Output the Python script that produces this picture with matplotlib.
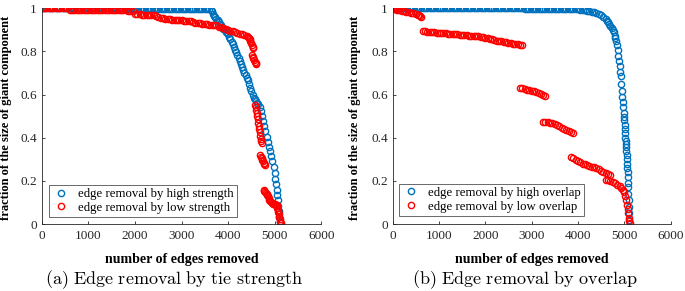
import matplotlib
matplotlib.use("Agg")
import matplotlib.pyplot as plt

plt.rcParams['mathtext.fontset'] = 'cm'
plt.rcParams['font.family'] = ['Liberation Serif', 'DejaVu Serif']

# ---------------- Panel (a): edge removal by tie strength ----------------
# high strength removal (blue)
hs_x = [0, 50, 100, 150, 200, 250, 300, 350, 400, 450, 500, 550, 600, 650, 700, 750, 800, 850, 900, 950,
        1000, 1050, 1100, 1150, 1200, 1250, 1300, 1350, 1400, 1450, 1500, 1550, 1600, 1650, 1700, 1750, 1800,
        1850, 1900, 1950, 2000, 2050, 2100, 2150, 2200, 2250, 2300, 2350, 2400, 2450, 2500, 2550, 2600, 2650,
        2700, 2750, 2800, 2850, 2900, 2950, 3000, 3050, 3100, 3150, 3200, 3250, 3300, 3350, 3400, 3450, 3500,
        3550, 3600,
        3625, 3650, 3675, 3700, 3725, 3750, 3775, 3800, 3825, 3850, 3875, 3900, 3925, 3950, 3975, 4000, 4025,
        4050, 4075, 4100, 4125, 4150, 4175, 4200, 4225, 4250, 4275, 4300, 4325, 4350, 4375, 4400, 4425, 4450,
        4475, 4500, 4525, 4550, 4575, 4600, 4625, 4650, 4675, 4700, 4725, 4750, 4775, 4800, 4825, 4850, 4875,
        4900, 4925, 4950, 4975, 5000, 5015, 5030, 5045, 5060, 5070, 5080, 5090, 5100, 5110]
hs_y = [1.0, 1.0, 1.0, 1.0, 1.0, 1.0, 1.0, 1.0, 1.0, 1.0, 1.0, 1.0, 1.0, 1.0, 1.0, 1.0, 1.0, 1.0, 1.0, 1.0,
        1.0, 1.0, 1.0, 1.0, 1.0, 1.0, 1.0, 1.0, 1.0, 1.0, 1.0, 1.0, 1.0, 1.0, 1.0, 1.0, 1.0,
        0.997, 0.997, 0.997, 0.997, 0.997, 0.997, 0.997, 0.997, 0.997, 0.997, 0.997, 0.997, 0.997, 0.997, 0.997, 0.997, 0.997,
        0.997, 0.997, 0.997, 0.997, 0.997, 0.997, 0.996, 0.996, 0.996, 0.996, 0.996, 0.996, 0.996, 0.996, 0.996, 0.996, 0.996,
        0.996, 0.996,
        0.99, 0.985, 0.975, 0.965, 0.958, 0.95, 0.943, 0.935, 0.928, 0.92, 0.912, 0.905, 0.897, 0.89, 0.885, 0.878, 0.868,
        0.858, 0.845, 0.832, 0.82, 0.808, 0.795, 0.782, 0.768, 0.755, 0.742, 0.728, 0.714, 0.7, 0.69, 0.678, 0.665, 0.65,
        0.632, 0.615, 0.598, 0.585, 0.577, 0.57, 0.563, 0.555, 0.54, 0.522, 0.5, 0.478, 0.455, 0.43, 0.405, 0.38, 0.358,
        0.337, 0.315, 0.29, 0.265, 0.235, 0.21, 0.185, 0.16, 0.135, 0.11, 0.085, 0.06, 0.035, 0.01]

# low strength removal (red)
ls_x = [0, 50, 100, 150, 200, 250, 300, 350, 400, 450, 500, 550,
        600, 650, 700, 750, 800, 850, 900, 950, 1000, 1050, 1100, 1150, 1200, 1250, 1300, 1350, 1400, 1450,
        1500, 1550, 1600, 1650, 1700, 1750, 1800, 1850, 1900,
        1950, 2000,
        2050, 2100, 2150, 2200, 2250, 2300, 2350, 2400, 2450,
        2500, 2550, 2600, 2650, 2700, 2750, 2800, 2850, 2900, 2950, 3000, 3050, 3100, 3150, 3200, 3250,
        3300, 3350, 3400, 3450, 3500, 3550, 3600, 3650, 3700, 3750,
        3800, 3850, 3900, 3950, 4000, 4050, 4100,
        4150, 4200, 4250, 4300, 4350, 4400,
        4425, 4450, 4465, 4480, 4495, 4510, 4525, 4540,
        4515, 4530, 4545, 4560, 4575, 4590, 4605,
        4585, 4595, 4605, 4615, 4625, 4635, 4645, 4655, 4665, 4675, 4690, 4700, 4712, 4725,
        4690, 4705, 4720, 4735, 4750, 4765, 4780, 4795,
        4765, 4780, 4795, 4810, 4825, 4840, 4855, 4870, 4885, 4900, 4920, 4940, 4960, 4980, 5000, 5020, 5040,
        5050, 5060, 5070, 5080, 5090, 5100, 5110, 5120, 5130]
ls_y = [1.0, 1.0, 1.0, 1.0, 1.0, 1.0, 1.0, 1.0, 1.0, 1.0, 1.0, 1.0,
        0.992, 0.991, 0.99, 0.99, 0.99, 0.99, 0.99, 0.99, 0.99, 0.99, 0.99, 0.99, 0.99, 0.99, 0.99, 0.99, 0.99, 0.99,
        0.99, 0.99, 0.99, 0.99, 0.99, 0.99, 0.99, 0.989, 0.989,
        0.985, 0.975,
        0.972, 0.971, 0.97, 0.97, 0.969, 0.968, 0.967, 0.966, 0.965,
        0.958, 0.956, 0.954, 0.952, 0.95, 0.948, 0.947, 0.946, 0.945, 0.944, 0.943, 0.942, 0.941, 0.94, 0.939, 0.938,
        0.932, 0.93, 0.929, 0.928, 0.927, 0.925, 0.924, 0.923, 0.921, 0.92,
        0.915, 0.912, 0.908, 0.904, 0.9, 0.896, 0.892,
        0.888, 0.885, 0.882, 0.878, 0.874, 0.87,
        0.866, 0.86, 0.855, 0.848, 0.84, 0.83, 0.822, 0.815,
        0.783, 0.775, 0.768, 0.76, 0.752, 0.745, 0.74,
        0.552, 0.54, 0.528, 0.515, 0.5, 0.485, 0.47, 0.455, 0.44, 0.425, 0.41, 0.395, 0.385, 0.375,
        0.32, 0.312, 0.305, 0.298, 0.29, 0.283, 0.278, 0.274,
        0.158, 0.155, 0.15, 0.145, 0.14, 0.135, 0.128, 0.12, 0.112, 0.105, 0.1, 0.097, 0.095, 0.094, 0.092, 0.09, 0.09,
        0.085, 0.075, 0.065, 0.055, 0.045, 0.035, 0.025, 0.015, 0.005]

# ---------------- Panel (b): edge removal by overlap ----------------
# high overlap removal (blue)
ho_x = [0, 50, 100, 150, 200, 250, 300, 350, 400, 450, 500, 550, 600, 650, 700, 750, 800, 850, 900, 950,
        1000, 1050, 1100, 1150, 1200, 1250, 1300, 1350, 1400, 1450, 1500, 1550, 1600, 1650, 1700, 1750, 1800,
        1850, 1900, 1950, 2000, 2050, 2100, 2150, 2200, 2250, 2300, 2350, 2400, 2450, 2500, 2550, 2600, 2650,
        2700, 2750, 2800,
        2850, 2900, 2950, 3000, 3050, 3100, 3150, 3200, 3250, 3300, 3350, 3400,
        3450, 3500, 3550, 3600, 3650, 3700, 3750, 3800, 3850, 3900, 3950, 4000,
        4050, 4100, 4150, 4200, 4250, 4300, 4350, 4400, 4450, 4500, 4550, 4600, 4625, 4650, 4675, 4700, 4725,
        4750, 4770, 4790, 4810, 4830, 4845, 4860, 4875, 4890, 4900, 4910, 4920, 4935, 4950, 4960, 4970, 4980,
        4990, 5000, 5005, 5010, 5015, 5020, 5025, 5030, 5035, 5040, 5045, 5050, 5055, 5060, 5065, 5070, 5075,
        5080, 5085, 5090, 5095, 5100, 5105, 5110]
ho_y = [1.0, 1.0, 1.0, 1.0, 1.0, 1.0, 1.0, 1.0, 1.0, 1.0, 1.0, 1.0, 1.0, 1.0, 1.0, 1.0, 1.0, 1.0, 1.0, 1.0,
        1.0, 1.0, 1.0, 1.0, 1.0, 1.0, 1.0, 1.0, 1.0, 1.0, 1.0, 1.0, 1.0, 1.0, 1.0, 1.0, 1.0,
        1.0, 1.0, 1.0, 1.0, 1.0, 1.0, 1.0, 1.0, 1.0, 1.0, 1.0, 1.0, 1.0, 1.0, 1.0, 1.0, 1.0,
        1.0, 1.0, 1.0,
        0.997, 0.997, 0.997, 0.997, 0.997, 0.997, 0.997, 0.997, 0.997, 0.997, 0.997, 0.997,
        0.995, 0.995, 0.995, 0.995, 0.995, 0.995, 0.995, 0.995, 0.995, 0.995, 0.995, 0.995,
        0.993, 0.992, 0.99, 0.988, 0.986, 0.984, 0.98, 0.977, 0.972, 0.966, 0.958, 0.948, 0.942, 0.935, 0.925, 0.917, 0.91,
        0.9, 0.888, 0.872, 0.862, 0.85, 0.83, 0.805, 0.78, 0.755, 0.73, 0.705, 0.685, 0.65, 0.615, 0.59, 0.565, 0.54,
        0.515, 0.495, 0.48, 0.46, 0.44, 0.42, 0.4, 0.385, 0.37, 0.355, 0.34, 0.32, 0.3, 0.28, 0.26, 0.24, 0.22,
        0.19, 0.17, 0.14, 0.11, 0.08, 0.05, 0.02]

# low overlap removal (red)
lo_x = [0, 25, 50, 75, 100, 150, 200, 250, 300, 350, 400, 450, 500, 550, 580, 600, 625,
        650, 700, 750, 800, 850, 900, 950, 1000, 1050, 1100, 1150, 1200, 1250, 1300, 1350, 1400, 1450, 1500,
        1550, 1600, 1650, 1700, 1750, 1800, 1850, 1900, 1950, 2000, 2050, 2100, 2150, 2200, 2250, 2300, 2350,
        2400, 2450, 2500, 2550, 2600, 2650, 2700, 2750, 2800,
        2760, 2800, 2850, 2900, 2950, 3000, 3050, 3100, 3150, 3200, 3250, 3300,
        3250, 3300, 3350, 3400, 3450, 3500, 3550, 3600, 3650, 3700, 3750, 3800, 3850, 3890,
        3860, 3900, 3950, 4000, 4050, 4100, 4150, 4200, 4250, 4300, 4350, 4400, 4450, 4500, 4550, 4600, 4650, 4690,
        4610, 4650, 4700, 4750, 4800, 4850, 4900, 4940, 4970, 5000, 5020, 5040, 5055, 5070, 5085, 5100, 5110, 5118]
lo_y = [1.0, 0.998, 0.996, 0.994, 0.992, 0.99, 0.988, 0.986, 0.984, 0.982, 0.979, 0.976, 0.973, 0.97, 0.967, 0.963, 0.96,
        0.893, 0.892, 0.891, 0.89, 0.889, 0.888, 0.887, 0.886, 0.885, 0.884, 0.883, 0.882, 0.881, 0.88, 0.879, 0.878, 0.877, 0.876,
        0.875, 0.874, 0.873, 0.872, 0.871, 0.87, 0.869, 0.868, 0.866, 0.864, 0.862, 0.859, 0.855, 0.852, 0.85, 0.848, 0.846,
        0.844, 0.842, 0.84, 0.838, 0.836, 0.834, 0.832, 0.83, 0.828,
        0.63, 0.628, 0.625, 0.622, 0.619, 0.617, 0.614, 0.611, 0.607, 0.603, 0.598, 0.592,
        0.475, 0.473, 0.471, 0.469, 0.466, 0.462, 0.457, 0.452, 0.447, 0.442, 0.436, 0.43, 0.425, 0.42,
        0.312, 0.305, 0.298, 0.292, 0.286, 0.28, 0.276, 0.272, 0.268, 0.265, 0.262, 0.258, 0.253, 0.248, 0.242, 0.236, 0.23, 0.226,
        0.204, 0.202, 0.198, 0.193, 0.188, 0.182, 0.176, 0.168, 0.16, 0.148, 0.13, 0.11, 0.09, 0.07, 0.05, 0.03, 0.015, 0.005]

x_ticks = [0, 1000, 2000, 3000, 4000, 5000, 6000]
y_ticks = [0, 0.2, 0.4, 0.6, 0.8, 1.0]
y_ticklabels = ['0', '0.2', '0.4', '0.6', '0.8', '1']

BLUE = '#0072BD'
RED = '#FF0000'
AXC = '#262626'

fig = plt.figure(figsize=(6.85, 2.91), dpi=100)
panels = [
    dict(rect=[0.061, 0.230, 0.408, 0.742], bx=hs_x, by=hs_y, rx=ls_x, ry=ls_y,
         labels=['edge removal by high strength', 'edge removal by low strength'],
         caption=r'$\mathrm{(a)\ Edge\ removal\ by\ tie\ strength}$', cap_x=0.254,
         leg_anchor=(0.026, 0.032), ylab_x=-0.128),
    dict(rect=[0.573, 0.230, 0.406, 0.742], bx=ho_x, by=ho_y, rx=lo_x, ry=lo_y,
         labels=['edge removal by high overlap', 'edge removal by low overlap'],
         caption=r'$\mathrm{(b)\ Edge\ removal\ by\ overlap}$', cap_x=0.767,
         leg_anchor=(0.023, 0.037), ylab_x=-0.135),
]

for p in panels:
    ax = fig.add_axes(p['rect'])
    ax.plot(p['bx'], p['by'], 'o', mfc='none', mec=BLUE, ms=4.5, mew=1.0, label=p['labels'][0])
    ax.plot(p['rx'], p['ry'], 'o', mfc='none', mec=RED, ms=4.5, mew=1.0, label=p['labels'][1])
    ax.set_xlim(0, 6000)
    ax.set_ylim(0, 1)
    ax.set_xticks(x_ticks)
    ax.set_xticklabels([str(t) for t in x_ticks])
    ax.set_yticks(y_ticks)
    ax.set_yticklabels(y_ticklabels)
    ax.spines['top'].set_visible(False)
    ax.spines['right'].set_visible(False)
    for s in ('left', 'bottom'):
        ax.spines[s].set_color(AXC)
        ax.spines[s].set_linewidth(0.6)
    ax.tick_params(direction='in', length=2.2, width=0.6, labelsize=9.5, colors=AXC)
    ax.tick_params(axis='x', pad=4.5)
    ax.tick_params(axis='y', pad=3.5)
    ax.set_xlabel('number of edges removed', fontsize=10, fontweight='bold')
    ax.xaxis.label.set_va('center')
    ax.xaxis.set_label_coords(0.5, -0.162)
    ax.set_ylabel('fraction of the size of giant component', fontsize=9, fontweight='bold')
    ax.yaxis.label.set_va('center')
    ax.yaxis.set_label_coords(p['ylab_x'], 0.49)
    leg = ax.legend(loc='lower left', bbox_to_anchor=p['leg_anchor'], fontsize=9.2, frameon=True,
                    fancybox=False, edgecolor=AXC, handletextpad=0.56, borderpad=0.25,
                    labelspacing=0.15, handlelength=1.44, borderaxespad=0)
    leg.get_frame().set_linewidth(0.6)
    fig.text(p['cap_x'], 0.038, p['caption'], ha='center', va='center', fontsize=13)

fig.savefig('out.png', dpi=100)
